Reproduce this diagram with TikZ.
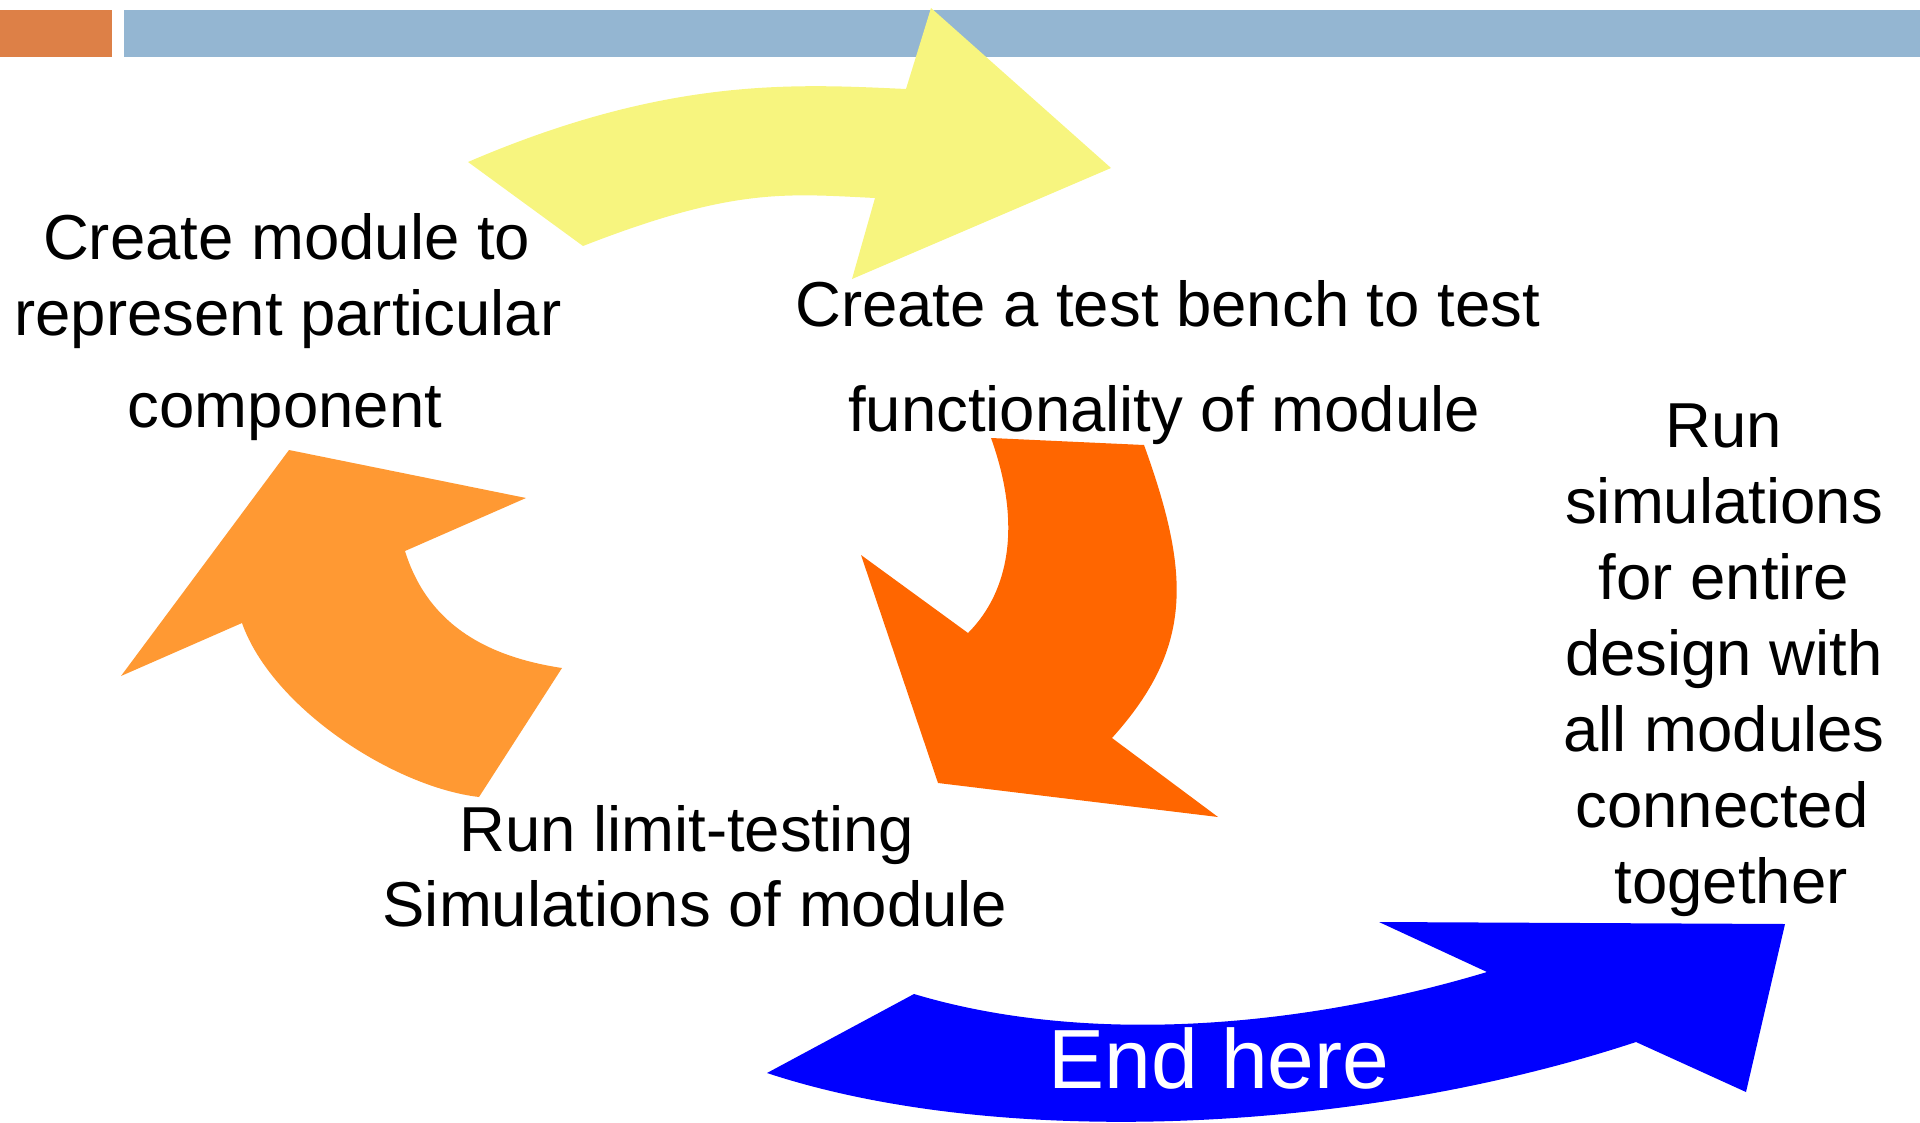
\documentclass[tikz,border=0pt]{standalone}
\usepackage{fontspec}
\setmainfont{Liberation Sans}
\definecolor{baror}{RGB}{221,128,71}
\definecolor{barbl}{RGB}{148,182,210}
\definecolor{ayel}{RGB}{247,245,127}
\definecolor{aorl}{RGB}{255,153,51}
\definecolor{aord}{RGB}{255,102,0}
\definecolor{ablu}{RGB}{0,0,255}
\tikzset{
  lbl/.style={anchor=base,inner sep=0pt,text=black,font=\fontsize{31.75}{38}\selectfont},
  endlbl/.style={anchor=base,inner sep=0pt,text=white,font=\fontsize{42}{50}\selectfont}
}
\begin{document}
\begin{tikzpicture}[x=0.5pt,y=-0.5pt]
\useasboundingbox (0,0) rectangle (1920,1123);
% top bars
\fill[baror] (0,10) rectangle (112,57.5);
\fill[barbl] (124,10) rectangle (1920,57.5);
% yellow arrow
\fill[ayel] (468,162) .. controls (668,76) and (796,84) .. (906,89)
  -- (931,8) -- (1111,168) -- (852,279) -- (875,198)
  .. controls (785,193.6) and (733,187.5) .. (583,246) -- cycle;
% light orange arrow
\fill[aorl] (289,450) -- (526,498) -- (405,551)
  .. controls (426.7,621) and (482,656) .. (562,668)
  -- (479,797)
  .. controls (394,787) and (272,708) .. (242,623)
  -- (121,676) -- cycle;
% dark orange arrow
\fill[aord] (991,438) -- (1144,445)
  .. controls (1191,575) and (1193,648) .. (1112,738)
  -- (1218,817) -- (938,783) -- (861,555) -- (968,633)
  .. controls (1010,591) and (1021.6,523) .. (991,438) -- cycle;
% blue arrow
\fill[ablu] (914,994) .. controls (1084,1045) and (1297,1029) .. (1487,972)
  -- (1379,922) -- (1785,924) -- (1746,1092) -- (1636,1042)
  .. controls (1356,1134.4) and (997,1149) .. (767,1073) -- cycle;
% texts
\node[lbl] (l1) at (286.7,259.3) {Create module to};
\node[lbl] (l2) at (288,335) {represent particular};
\node[lbl] (l3) at (285,427) {component};
\node[lbl] (t1) at (1167.6,326) {Create a test bench to test};
\node[lbl] (t2) at (1164,431.7) {functionality of module};
\node[lbl] (b1) at (686.8,851) {Run limit-testing};
\node[lbl] (b2) at (695,926.7) {Simulations of module};
\node[lbl] (r1) at (1724,447) {Run};
\node[lbl] (r2) at (1724,523) {simulations};
\node[lbl] (r3) at (1724,599) {for entire};
\node[lbl] (r4) at (1724,675) {design with};
\node[lbl] (r5) at (1724,751) {all modules};
\node[lbl] (r6) at (1722,827) {connected};
\node[lbl] (r7) at (1731,903) {together};
\node[endlbl] (eh) at (1219,1088.3) {End here};
\end{tikzpicture}
\end{document}
